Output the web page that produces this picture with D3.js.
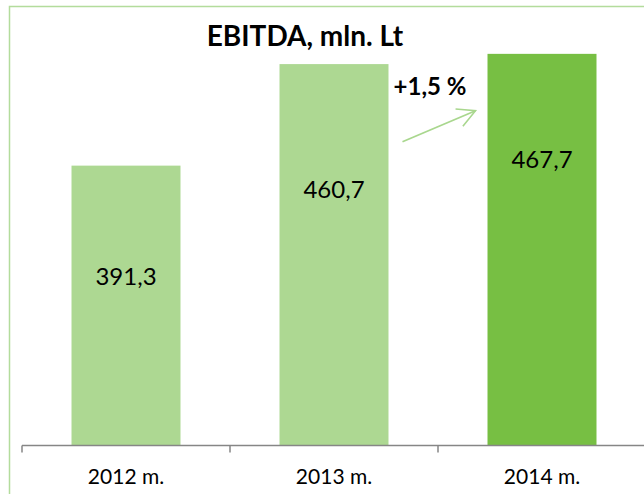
<!DOCTYPE html>
<html>
<head>
<meta charset="utf-8">
<script src="https://cdn.jsdelivr.net/npm/d3@7"></script>
<style>
  html, body { margin: 0; padding: 0; background: #fff; }
  svg { display: block; }
  text { font-family: Lato, "Noto Sans", sans-serif; fill: #000; }
</style>
</head>
<body>
<svg id="chart" width="644" height="494"></svg>
<script>
const years = ['2012 m.', '2013 m.', '2014 m.']
const ebitda = [391.3, 460.7, 467.7]
const labels = ['391,3', '460,7', '467,7']
// where each value label sits, in axis units
const labelAt = [315.6, 374.9, 395.4]
const change = '+1,5 %'
const yDomain = [200, 500]

const baseY = 445.5

const svg = d3.select('#chart')

// chart frame (runs off the right and bottom edges)
svg.append('rect')
  .attr('x', 9.5)
  .attr('y', 6.5)
  .attr('width', 700)
  .attr('height', 600)
  .attr('fill', '#fff')
  .attr('stroke', '#b3dc9c')
  .attr('stroke-width', 1.5)

const x = d3.scaleBand()
  .domain(years)
  .range([22, 646])
  .paddingInner(0.476)
  .paddingOuter(0.238)

const y = d3.scaleLinear()
  .domain(yDomain)
  .range([baseY, 6.6])

// bars
svg.append('g')
  .selectAll('rect')
  .data(years)
  .join('rect')
  .attr('x', (d) => x(d))
  .attr('y', (d, i) => y(ebitda[i]))
  .attr('width', x.bandwidth())
  .attr('height', (d, i) => baseY - y(ebitda[i]))
  .attr('fill', (d, i) => (i === years.length - 1 ? '#77bf43' : '#add892'))

// value labels
svg.append('g')
  .selectAll('text')
  .data(years)
  .join('text')
  .attr('x', (d) => x(d) + x.bandwidth() / 2)
  .attr('y', (d, i) => y(labelAt[i]))
  .attr('dy', '0.36em')
  .attr('text-anchor', 'middle')
  .style('font-size', '24px')
  .text((d, i) => labels[i])

// category axis
const axis = d3.axisBottom(x)
  .tickSize(0)
  .tickPadding(24)

const axisG = svg.append('g')
  .attr('transform', `translate(0,${baseY})`)
  .call(axis)

axisG.select('.domain').remove()
axisG.selectAll('text')
  .style('font-family', 'Lato, "Noto Sans", sans-serif')
  .style('font-size', '21px')
  .attr('fill', '#000')

// axis line with boundary ticks (Excel style)
const step = x.step()
const bounds = d3.range(years.length + 1).map((i) => 22 + i * step)
axisG.append('path')
  .attr('d', `M${bounds[0]},0H${bounds[bounds.length - 1]}`)
  .attr('stroke', '#868686')
  .attr('stroke-width', 1.5)
  .attr('fill', 'none')
axisG.selectAll('line.bound')
  .data(bounds)
  .join('line')
  .attr('class', 'bound')
  .attr('x1', (d) => d)
  .attr('x2', (d) => d)
  .attr('y1', 0)
  .attr('y2', 7)
  .attr('stroke', '#868686')
  .attr('stroke-width', 1.5)

// title
svg.append('text')
  .attr('x', 305)
  .attr('y', 46)
  .attr('text-anchor', 'middle')
  .style('font-size', '28px')
  .style('font-weight', 'bold')
  .text('EBITDA, mln. Lt')

// growth annotation
const gapL = x(years[1]) + x.bandwidth()
const gapR = x(years[2])

svg.append('defs')
  .append('marker')
  .attr('id', 'head')
  .attr('viewBox', '-20 -12 22 24')
  .attr('refX', 0)
  .attr('refY', 0)
  .attr('markerWidth', 22)
  .attr('markerHeight', 24)
  .attr('markerUnits', 'userSpaceOnUse')
  .attr('orient', 'auto')
  .append('path')
  .attr('d', 'M-17.7,-9.4L0,0L-17.7,9.4')
  .attr('fill', 'none')
  .attr('stroke', '#a9d78e')
  .attr('stroke-width', 1.6)

svg.append('line')
  .attr('x1', gapL + 14)
  .attr('y1', y(407.6))
  .attr('x2', gapR - 12)
  .attr('y2', y(428.8))
  .attr('stroke', '#a9d78e')
  .attr('stroke-width', 1.8)
  .attr('marker-end', 'url(#head)')

svg.append('text')
  .attr('x', (gapL + gapR) / 2 - 8)
  .attr('y', 95)
  .attr('text-anchor', 'middle')
  .style('font-size', '24px')
  .style('font-weight', 'bold')
  .text(change)
</script>
</body>
</html>
